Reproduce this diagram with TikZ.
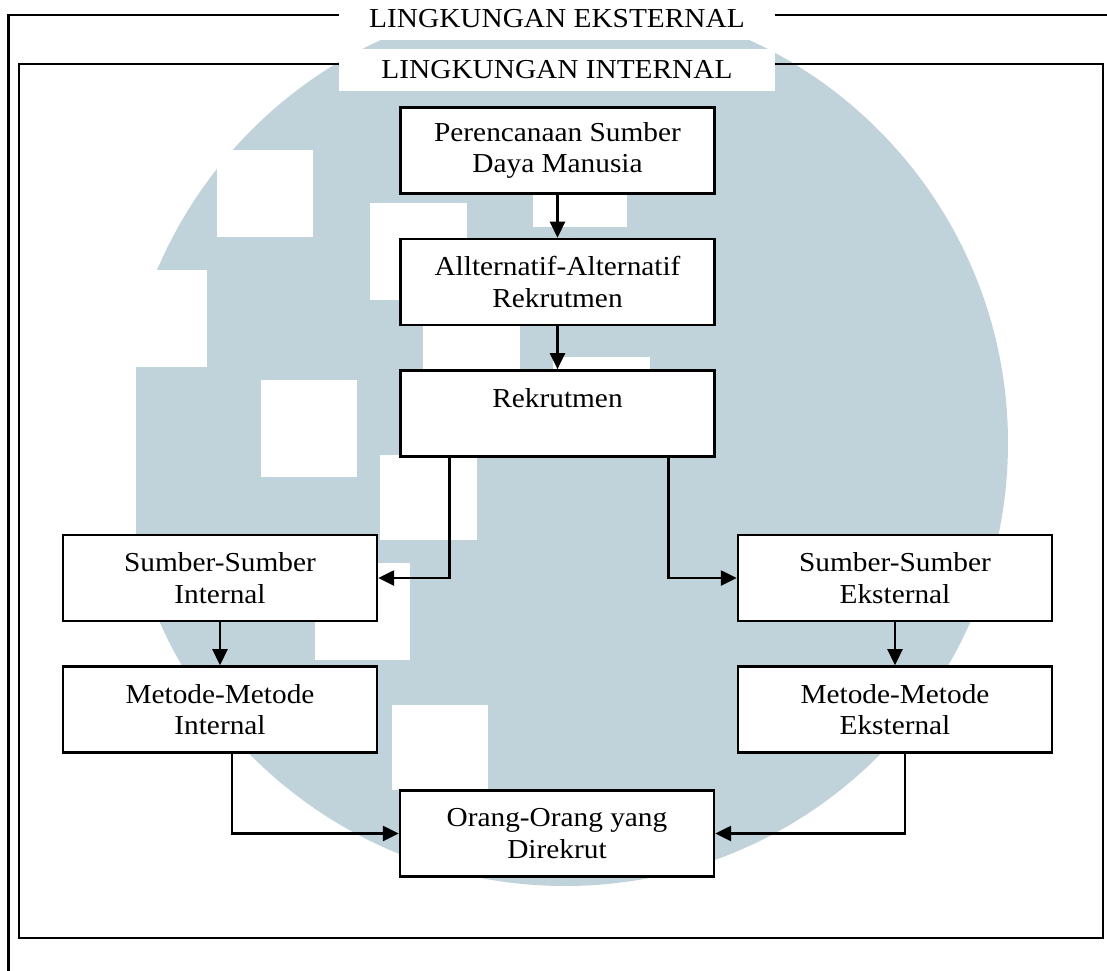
\documentclass[tikz,border=0pt]{standalone}
\usepackage{fontspec}
\setmainfont{Liberation Serif}[FakeStretch=1.07]
\usepackage{tikz}
\usetikzlibrary{positioning,arrows.meta}
\definecolor{logoblue}{RGB}{193,211,218}
\tikzset{
	recruitment flow/.style={
		x=0.02cm,y=-0.02cm, % one unit is one pixel of the sketch
		node distance=0.86cm,
		line width=1.4pt,
		font=\fontsize{15.6}{18}\selectfont
	},
	process/.style={
		rectangle,
		draw,
		fill=white,
		align=center,
		minimum width=6.28cm,
		minimum height=1.72cm,
		inner sep=0pt
	},
	frame label/.style={
		rectangle,
		fill=white,
		minimum width=8.72cm,
		minimum height=0.84cm,
		inner sep=0pt
	},
	flow arrow/.style={
		-{Triangle[length=0.32cm,width=0.3cm]}
	},
	logo cell/.style={
		fill=white
	}
}

\begin{document}
\begin{tikzpicture}[recruitment flow]
	\useasboundingbox (0,0) rectangle (1107,971);
	% faded logo behind the chart
	\fill[logoblue] (565,443) circle[radius=443];
	\foreach \xa/\ya/\xb/\yb in {217/150/313/237, 110/270/207/367, 370/203/467/300,
		533/130/627/227, 423/323/520/423, 553/357/650/455, 261/380/357/477,
		380/455/477/540, 315/563/410/660, 392/705/488/790, 100/367/136/540}
		\fill[logo cell] (\xa,\ya) rectangle (\xb,\yb);
	% frames
	\draw (1107,15) -- (8.5,15) -- (8.5,971);
	\draw (19,64) rectangle (1103,938);
	\node[frame label] (lingext) at (557,18.5) {LINGKUNGAN EKSTERNAL};
	\node[frame label] (lingint) at (557,69.5) {LINGKUNGAN INTERNAL};
	% boxes
	\node[process] (plan) at (557.5,150.5) {Perencanaan Sumber\\Daya Manusia};
	\node[process,below=of plan] (alt) {Allternatif-Alternatif\\Rekrutmen};
	\node[process,below=of alt] (rekrut) {Rekrutmen\\ \mbox{}};
	\node[process] (srcint) at (220,578) {Sumber-Sumber\\Internal};
	\node[process] (srcext) at (895,578) {Sumber-Sumber\\Eksternal};
	\node[process,below=of srcint] (metint) {Metode-Metode\\Internal};
	\node[process,below=of srcext] (metext) {Metode-Metode\\Eksternal};
	\node[process] (hired) at (557,833.5) {Orang-Orang yang\\Direkrut};
	% arrows
	\draw[flow arrow] (plan) -- (alt);
	\draw[flow arrow] (alt) -- (rekrut);
	\draw[flow arrow] ([xshift=-2.16cm]rekrut.south) |- (srcint);
	\draw[flow arrow] ([xshift=2.22cm]rekrut.south) |- (srcext);
	\draw[flow arrow] (srcint) -- (metint);
	\draw[flow arrow] (srcext) -- (metext);
	\draw[flow arrow] ([xshift=0.24cm]metint.south) |- (hired);
	\draw[flow arrow] ([xshift=0.2cm]metext.south) |- (hired);
\end{tikzpicture}
\end{document}
